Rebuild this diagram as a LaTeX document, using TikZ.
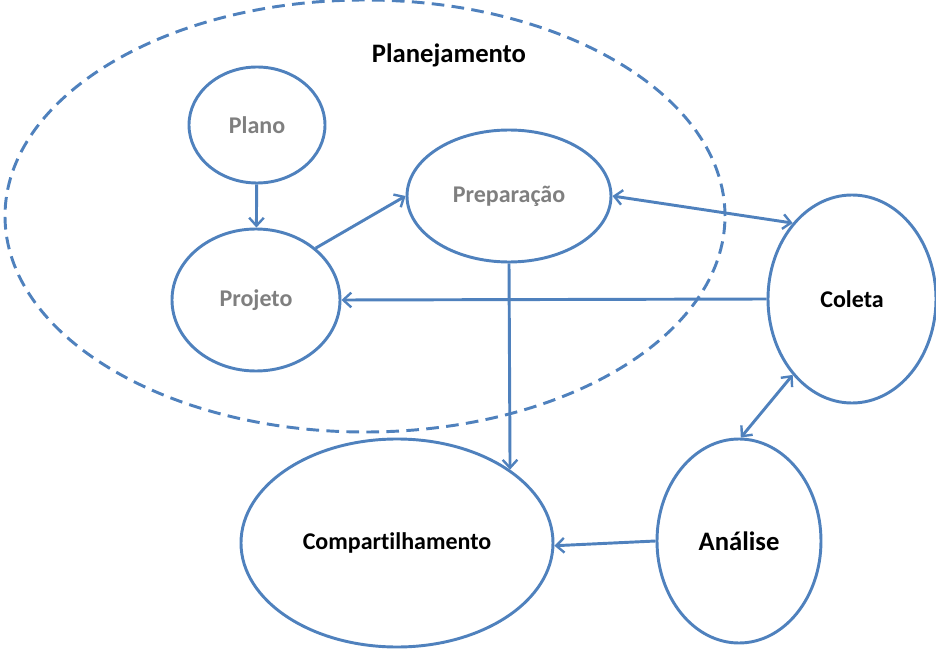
\documentclass[tikz,border=0pt]{standalone}
\usepackage{fontspec}
\setmainfont[Ligatures={NoCommon,NoRare}]{Carlito}
\usetikzlibrary{shapes.geometric,arrows.meta}
\definecolor{ob}{HTML}{4F81BD}
\definecolor{tg}{HTML}{7F7F7F}
\begin{document}
\begin{tikzpicture}[x=0.75pt,y=-0.75pt,
  ell/.style={ellipse,draw=ob,line width=2.2pt,inner sep=0pt,font=\fontsize{18}{21}\selectfont\bfseries},
  gr/.style={text=tg},
  conn/.style={draw=ob,line width=2.2pt,-{Straight Barb[length=6pt,width=11pt,line width=1.8pt]}},
  both/.style={conn,{Straight Barb[length=6pt,width=11pt,line width=1.8pt]}-{Straight Barb[length=6pt,width=11pt,line width=1.8pt]}}]
\useasboundingbox (0,0) rectangle (936,649);
\node[ell,dashed,dash pattern=on 9.5pt off 5.5pt,minimum width=540pt,minimum height=324pt] (plan) at (365,216) {};
\node[font=\fontsize{20}{24}\selectfont\bfseries] (plantitle) at (449,55) {Planejamento};
\node[ell,gr,minimum width=102pt,minimum height=87pt] (plano) at (257,125) {Plano};
\node[ell,gr,minimum width=126pt,minimum height=106.5pt] (projeto) at (256,300) {Projeto};
\node[ell,gr,minimum width=153pt,minimum height=99pt] (prep) at (509,196) {Preparação};
\node[ell,minimum width=126pt,minimum height=156pt] (coleta) at (852,299) {Coleta};
\node[ell,font=\fontsize{20}{24}\selectfont\bfseries,minimum width=123pt,minimum height=153pt] (analise) at (739,541) {Análise};
\node[ell,minimum width=234pt,minimum height=156pt] (comp) at (397,543) {Compartilhamento};
\draw[conn] (plano) -- (projeto);
\draw[conn] (projeto.41) -- (prep.west);
\draw[both] (prep.east) -- (coleta.128);
\draw[conn] (coleta.west) -- (projeto.east);
\draw[conn] (prep.south) -- (comp.33.3);
\draw[both] (coleta.232) -- (analise.89);
\draw[conn] (analise.west) -- (comp.-1.5);
\end{tikzpicture}
\end{document}
